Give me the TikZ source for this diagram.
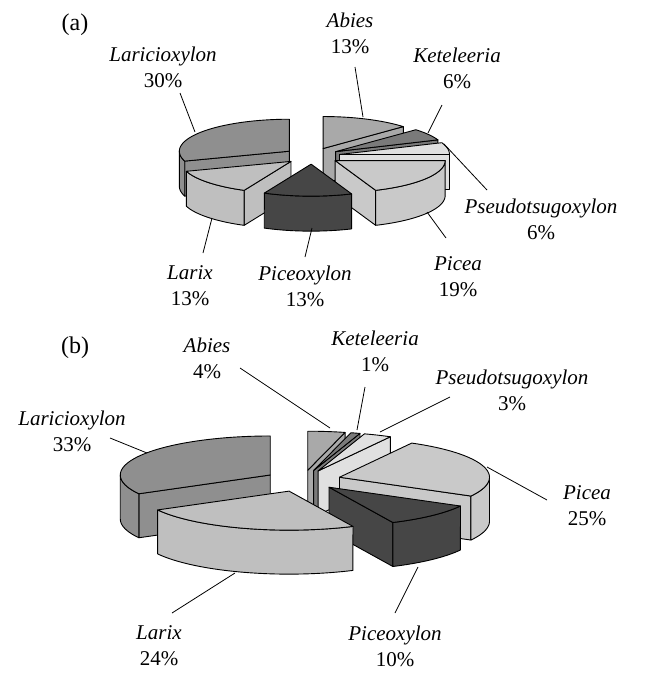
\documentclass[tikz,border=0pt]{standalone}
\usepackage{fontspec}
\setmainfont{Liberation Serif}
\definecolor{cAbies}{HTML}{A9A9A9}
\definecolor{cKetel}{HTML}{7A7A7A}
\definecolor{cPseudo}{HTML}{E0E0E0}
\definecolor{cPicea}{HTML}{C9C9C9}
\definecolor{cPiceox}{HTML}{464646}
\definecolor{cLarix}{HTML}{BFBFBF}
\definecolor{cLaricio}{HTML}{8F8F8F}
\tikzset{
  face/.style={draw=black, line width=0.9pt, line join=round},
  leader/.style={draw=black, line width=0.8pt},
  lbl/.style={align=center, font=\fontsize{21}{26}\selectfont\itshape, inner sep=0pt},
  panel/.style={font=\fontsize{24}{28}\selectfont, inner sep=0pt},
}
% #1 cx, #2 cy, #3 R, #4 ry, #5 h, #6 a1, #7 a2, #8 explode, #9 colour
\newcommand\pieslice[9]{%
  \pgfmathsetmacro\PSbis{(#6+#7)/2}%
  \pgfmathsetmacro\PSox{#1+#8*sin(\PSbis)}%
  \pgfmathsetmacro\PSoy{#2-(#4/#3)*#8*cos(\PSbis)}%
  \pgfmathtruncatemacro\PSvisA{sin(#6)<(0-0.01)}%
  \pgfmathtruncatemacro\PSvisB{sin(#7)>0.01}%
  \pgfmathsetmacro\PSta{max(#6,90)}%
  \pgfmathsetmacro\PStb{min(#7,270)}%
  \pgfmathtruncatemacro\PSvisC{\PStb>(\PSta+0.01)}%
  \ifnum\PSvisA=1
    \path[face,fill=#9] ({\PSox},{\PSoy}) -- ({\PSox+#3*sin(#6)},{\PSoy-#4*cos(#6)})
      -- ({\PSox+#3*sin(#6)},{\PSoy-#4*cos(#6)+#5}) -- ({\PSox},{\PSoy+#5}) -- cycle;
  \fi
  \ifnum\PSvisB=1
    \path[face,fill=#9] ({\PSox},{\PSoy}) -- ({\PSox+#3*sin(#7)},{\PSoy-#4*cos(#7)})
      -- ({\PSox+#3*sin(#7)},{\PSoy-#4*cos(#7)+#5}) -- ({\PSox},{\PSoy+#5}) -- cycle;
  \fi
  \ifnum\PSvisC=1
    \path[face,fill=#9]
      plot[domain=0:1, samples=40, variable=\t]
        ({\PSox+#3*sin(\PSta+\t*(\PStb-\PSta))},{\PSoy-#4*cos(\PSta+\t*(\PStb-\PSta))})
      -- plot[domain=0:1, samples=40, variable=\t]
        ({\PSox+#3*sin(\PStb-\t*(\PStb-\PSta))},{\PSoy-#4*cos(\PStb-\t*(\PStb-\PSta))+#5})
      -- cycle;
  \fi
  \path[face,fill=#9] ({\PSox},{\PSoy}) --
    plot[domain=#6:#7, samples=50, variable=\t] ({\PSox+#3*sin(\t)},{\PSoy-#4*cos(\t)}) -- cycle;
}
\begin{document}
\begin{tikzpicture}[x=1pt,y=-1pt]
\useasboundingbox (0,0) rectangle (645,673);
\fill[white] (0,0) rectangle (645,673);

% ---------------- panel (a) ----------------
\def\Acx{312}\def\Acy{156}\def\AR{110}\def\Ary{32}\def\Ah{35}\def\Ae{28}
\pieslice{\Acx}{\Acy}{\AR}{\Ary}{\Ah}{0}{46.8}{\Ae}{cAbies}
\pieslice{\Acx}{\Acy}{\AR}{\Ary}{\Ah}{252}{360}{\Ae}{cLaricio}
\pieslice{\Acx}{\Acy}{\AR}{\Ary}{\Ah}{46.8}{68.4}{\Ae}{cKetel}
\pieslice{\Acx}{\Acy}{\AR}{\Ary}{\Ah}{68.4}{90}{\Ae}{cPseudo}
\pieslice{\Acx}{\Acy}{\AR}{\Ary}{\Ah}{90}{158.4}{\Ae}{cPicea}
\pieslice{\Acx}{\Acy}{\AR}{\Ary}{\Ah}{205.2}{252}{\Ae}{cLarix}
\pieslice{\Acx}{\Acy}{\AR}{\Ary}{\Ah}{158.4}{205.2}{\Ae}{cPiceox}

\node[panel] (pa) at (75,25) {(a)};
\node[lbl] (aLaricio) at (163,67) {Laricioxylon\\{\upshape 30\%}};
\node[lbl] (aAbies) at (350,33) {Abies\\{\upshape 13\%}};
\node[lbl] (aKetel) at (457,68) {Keteleeria\\{\upshape 6\%}};
\node[lbl] (aPseudo) at (541,219) {Pseudotsugoxylon\\{\upshape 6\%}};
\node[lbl] (aPicea) at (458,277) {Picea\\{\upshape 19\%}};
\node[lbl] (aPiceox) at (305,286) {Piceoxylon\\{\upshape 13\%}};
\node[lbl] (aLarix) at (190,286) {Larix\\{\upshape 13\%}};

\coordinate (aLaricioT) at (180,93);   \coordinate (aLaricioS) at (195,132);
\coordinate (aAbiesT) at (355,67);     \coordinate (aAbiesS) at (363,117);
\coordinate (aKetelT) at (442,105);    \coordinate (aKetelS) at (428,133);
\coordinate (aPseudoT) at (487,190);   \coordinate (aPseudoS) at (444,144);
\coordinate (aPiceaT) at (446,238);    \coordinate (aPiceaS) at (427,212);
\coordinate (aPiceoxT) at (305,257);   \coordinate (aPiceoxS) at (312,228);
\coordinate (aLarixT) at (203,253);    \coordinate (aLarixS) at (212,218);
\foreach \n in {aLaricio,aAbies,aKetel,aPseudo,aPicea,aPiceox,aLarix}
  \draw[leader] (\n T) -- (\n S);

% ---------------- panel (b) ----------------
\def\Bcx{303}\def\Bcy{480}\def\BR{150}\def\Bry{39}\def\Bh{44}\def\Be{38}
\pieslice{\Bcx}{\Bcy}{\BR}{\Bry}{\Bh}{0}{14.4}{\Be}{cAbies}
\pieslice{\Bcx}{\Bcy}{\BR}{\Bry}{\Bh}{14.4}{18}{\Be}{cKetel}
\pieslice{\Bcx}{\Bcy}{\BR}{\Bry}{\Bh}{18}{28.8}{\Be}{cPseudo}
\pieslice{\Bcx}{\Bcy}{\BR}{\Bry}{\Bh}{241.2}{360}{\Be}{cLaricio}
\pieslice{\Bcx}{\Bcy}{\BR}{\Bry}{\Bh}{28.8}{118.8}{\Be}{cPicea}
\pieslice{\Bcx}{\Bcy}{\BR}{\Bry}{\Bh}{118.8}{154.8}{\Be}{cPiceox}
\pieslice{\Bcx}{\Bcy}{\BR}{\Bry}{\Bh}{154.8}{241.2}{45}{cLarix}

\node[panel] (pb) at (75,348) {(b)};
\node[lbl] (bAbies) at (207,358) {Abies\\{\upshape 4\%}};
\node[lbl] (bLaricio) at (72,431) {Laricioxylon\\{\upshape 33\%}};
\node[lbl] (bKetel) at (375,351) {Keteleeria\\{\upshape 1\%}};
\node[lbl] (bPseudo) at (512,390) {Pseudotsugoxylon\\{\upshape 3\%}};
\node[lbl] (bPicea) at (587,506) {Picea\\{\upshape 25\%}};
\node[lbl] (bLarix) at (159,646) {Larix\\{\upshape 24\%}};
\node[lbl] (bPiceox) at (395,646) {Piceoxylon\\{\upshape 10\%}};

\coordinate (bAbiesT) at (240,368);    \coordinate (bAbiesS) at (330,428);
\coordinate (bLaricioT) at (110,438);  \coordinate (bLaricioS) at (147,453);
\coordinate (bKetelT) at (365,387);    \coordinate (bKetelS) at (357,430);
\coordinate (bPseudoT) at (450,397);   \coordinate (bPseudoS) at (380,432);
\coordinate (bPiceaT) at (547,500);    \coordinate (bPiceaS) at (487,467);
\coordinate (bLarixT) at (172,613);    \coordinate (bLarixS) at (235,573);
\coordinate (bPiceoxT) at (395,613);   \coordinate (bPiceoxS) at (418,567);
\foreach \n in {bAbies,bLaricio,bKetel,bPseudo,bPicea,bLarix,bPiceox}
  \draw[leader] (\n T) -- (\n S);
\end{tikzpicture}
\end{document}
